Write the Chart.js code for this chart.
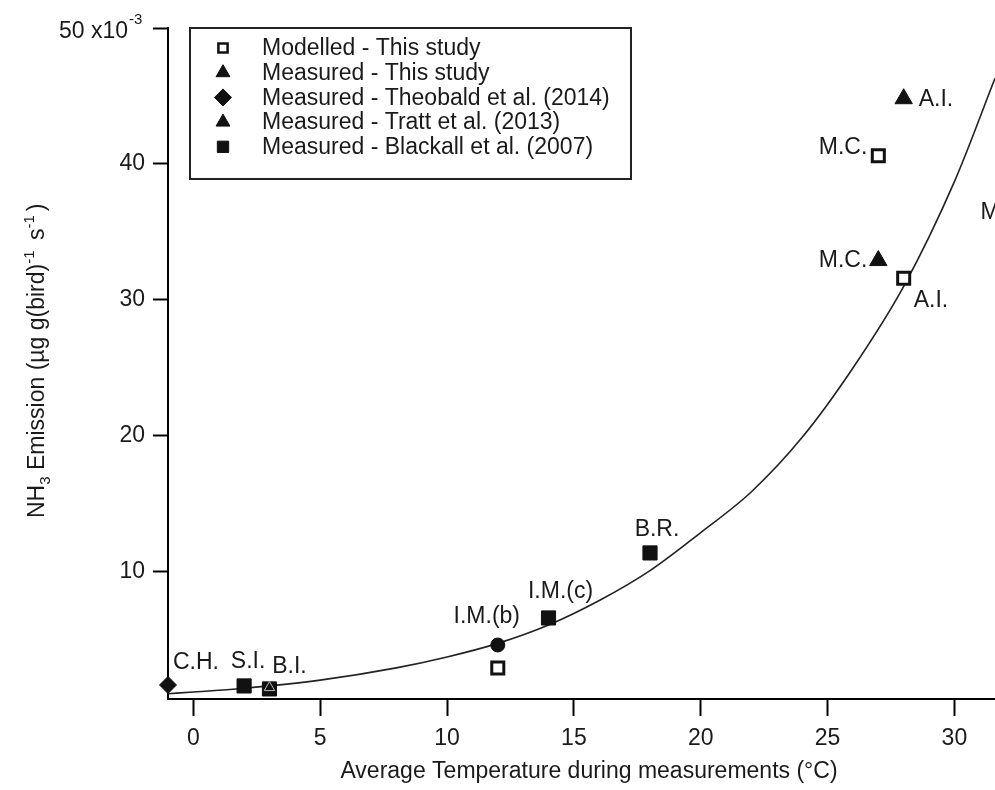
<!DOCTYPE html>
<html>
<head>
<meta charset="utf-8">
<script src="https://cdn.jsdelivr.net/npm/chart.js@4.4.1/dist/chart.umd.min.js"></script>
<style>
  html, body { margin: 0; padding: 0; background: #fff; }
  #wrap { width: 995px; height: 790px; position: relative; }
</style>
</head>
<body>
<div id="wrap"><canvas id="nh3Chart" width="995" height="790"></canvas></div>
<script>
// temperature (°C) vs NH3 emission (x10^-3 µg g(bird)^-1 s^-1)
const modelledT = [12, 27, 28];
const modelledE = [2.94, 40.6, 31.6];
const modelledNames = ["", "M.C.", "A.I."];

const measuredT = [27, 28];
const measuredE = [32.9, 44.8];
const measuredNames = ["M.C.", "A.I."];

const theobaldT = [-1];
const theobaldE = [1.69];
const theobaldNames = ["C.H."];

const trattT = [3];
const trattE = [1.5];

const blackallT = [2, 3, 14, 18];
const blackallE = [1.62, 1.4, 6.62, 11.4];
const blackallNames = ["S.I.", "B.I.", "I.M.(c)", "B.R."];

const imbT = [12];
const imbE = [4.63];
const imbNames = ["I.M.(b)"];

// fitted curve, read at a handful of temperatures
const fitT = [-1, 0, 2, 5, 8, 10, 12, 14, 16, 18, 20, 22, 24, 26, 28, 30, 31.6];
const fitE = [1.05, 1.17, 1.45, 2.05, 2.95, 3.75, 4.75, 6.1, 7.9, 10.1, 12.9, 15.9, 19.9, 25.0, 31.0, 38.7, 46.3];

const xTicks = [0, 5, 10, 15, 20, 25, 30];
const yTicks = [10, 20, 30, 40, 50];

// label placement next to each point (pixels), kept apart from the data
const modelledTagPos = [null, [-11, -8, "right"], [10, 22, "left"]];
const measuredTagPos = [[-11, 0, "right"], [15, 1, "left"]];
const theobaldTagPos = [[5, -22, "left"]];
const blackallTagPos = [[4, -24, "center"], [20, -22, "center"], [12, -26, "center"], [7, -23, "center"]];
const imbTagPos = [[-11, -28, "center"]];

const FONT = '"Liberation Sans", Arial, Helvetica, sans-serif';
const INK = "#111";

function pts(xs, ys) {
  return xs.map((x, i) => ({ x: x, y: ys[i] }));
}

const datasets = [
  {
    label: "Modelled - This study",
    data: pts(modelledT, modelledE),
    pointStyle: "rect", pointRadius: 8.5,
    backgroundColor: "#fff", borderColor: INK, borderWidth: 3,
    tags: modelledNames, tagPos: modelledTagPos,
    legendMark: { style: "rect", r: 6.5, fill: "#fff", bw: 2.5 }
  },
  {
    label: "Measured - This study",
    data: pts(measuredT, measuredE),
    pointStyle: "triangle", pointRadius: 10,
    backgroundColor: INK, borderColor: INK, borderWidth: 1,
    tags: measuredNames, tagPos: measuredTagPos,
    legendMark: { style: "triangle", r: 8, fill: INK, bw: 1 }
  },
  {
    label: "Measured - Theobald et al. (2014)",
    data: pts(theobaldT, theobaldE),
    pointStyle: "rectRot", pointRadius: 8.5,
    backgroundColor: INK, borderColor: INK, borderWidth: 1,
    tags: theobaldNames, tagPos: theobaldTagPos,
    legendMark: { style: "rectRot", r: 8.5, fill: INK, bw: 1 }
  },
  {
    label: "Measured - Tratt et al. (2013)",
    data: pts(trattT, trattE),
    pointStyle: "triangle", pointRadius: 6,
    backgroundColor: INK, borderColor: "#bbb", borderWidth: 1,
    legendMark: { style: "triangle", r: 8, fill: INK, bw: 1 }
  },
  {
    label: "Measured - Blackall et al. (2007)",
    data: pts(blackallT, blackallE),
    pointStyle: "rect", pointRadius: 10,
    backgroundColor: INK, borderColor: INK, borderWidth: 1,
    tags: blackallNames, tagPos: blackallTagPos,
    legendMark: { style: "rect", r: 8, fill: INK, bw: 1 }
  },
  {
    label: "I.M.(b)",
    data: pts(imbT, imbE),
    pointStyle: "circle", pointRadius: 7,
    backgroundColor: INK, borderColor: INK, borderWidth: 1,
    tags: imbNames, tagPos: imbTagPos
  },
  {
    label: "fit",
    data: pts(fitT, fitE),
    showLine: true, pointRadius: 0,
    borderColor: "#222", borderWidth: 1.6,
    cubicInterpolationMode: "monotone", fill: false
  }
];

function drawRich(ctx, parts, big, small) {
  let cx = 0;
  parts.forEach(p => {
    ctx.font = (p[1] ? small : big) + "px " + FONT;
    const dy = p[1] === "sub" ? 6 : p[1] === "sup" ? -10 : 0;
    ctx.fillText(p[0], cx, dy);
    cx += ctx.measureText(p[0]).width + (p[1] === "sup" ? 4 : 0);
  });
}

const decor = {
  id: "decor",
  afterDatasetsDraw(chart) {
    const ctx = chart.ctx;
    const xs = chart.scales.x, ys = chart.scales.y;
    ctx.save();
    ctx.fillStyle = "#1a1a1a";
    ctx.font = "23px " + FONT;
    ctx.textBaseline = "middle";
    chart.data.datasets.forEach((ds, di) => {
      if (!ds.tags) return;
      const meta = chart.getDatasetMeta(di);
      ds.tags.forEach((name, i) => {
        const pos = ds.tagPos[i];
        if (!name || !pos) return;
        const el = meta.data[i];
        ctx.textAlign = pos[2];
        ctx.fillText(name, el.x + pos[0], el.y + pos[1]);
      });
    });
    // tag of a point lying past the right edge of the axis
    ctx.textAlign = "left";
    ctx.fillText("M.C.", xs.getPixelForValue(31.03), ys.getPixelForValue(36.4));
    ctx.restore();
  },
  afterDraw(chart) {
    const ctx = chart.ctx;
    const ys = chart.scales.y;
    ctx.save();
    ctx.fillStyle = "#1a1a1a";

    // top tick label "50 x10^-3"
    const y50 = ys.getPixelForValue(50);
    ctx.textBaseline = "middle";
    ctx.textAlign = "right";
    ctx.font = "23px " + FONT;
    ctx.fillText("50 x10", 128, y50 + 4);
    ctx.textAlign = "left";
    ctx.font = "15px " + FONT;
    ctx.fillText("-3", 129, y50 - 8);

    // x axis title
    ctx.textAlign = "center";
    ctx.textBaseline = "alphabetic";
    ctx.font = "23px " + FONT;
    ctx.fillText("Average Temperature during measurements (°C)", 589, 778);

    // y axis title, rotated
    ctx.save();
    ctx.translate(44, 518);
    ctx.rotate(-Math.PI / 2);
    ctx.textAlign = "left";
    drawRich(ctx, [["NH"], ["3", "sub"], [" Emission (µg g(bird)"], ["-1", "sup"], [" s"], ["-1", "sup"], [")"]], 23, 15);
    ctx.restore();

    // legend box
    ctx.strokeStyle = "#222";
    ctx.lineWidth = 2;
    ctx.strokeRect(190, 28, 441, 151);
    const rows = chart.data.datasets.filter(d => d.legendMark);
    ctx.font = "23px " + FONT;
    ctx.textBaseline = "middle";
    ctx.textAlign = "left";
    rows.forEach((ds, i) => {
      const y = 48 + i * 24.7;
      const m = ds.legendMark;
      ctx.fillStyle = m.fill;
      ctx.strokeStyle = INK;
      ctx.lineWidth = m.bw;
      Chart.helpers.drawPoint(ctx, { pointStyle: m.style, radius: m.r, rotation: 0, borderWidth: m.bw }, 223, y);
      ctx.fillStyle = "#1a1a1a";
      ctx.fillText(ds.label, 262, y + 1);
    });
    ctx.restore();
  }
};

new Chart(document.getElementById("nh3Chart"), {
  type: "scatter",
  data: { datasets: datasets },
  options: {
    responsive: false,
    animation: false,
    clip: false,
    layout: { autoPadding: false, padding: { top: 28, right: 0, bottom: 0, left: 0 } },
    plugins: { legend: { display: false }, tooltip: { enabled: false } },
    scales: {
      x: {
        type: "linear",
        min: -1,
        max: 31.6,
        afterBuildTicks: (s) => { s.ticks = xTicks.map(v => ({ value: v })); },
        afterFit: (s) => { s.height = 91; s.paddingLeft = 0; s.paddingRight = 0; },
        border: { display: true, color: "#000", width: 2 },
        grid: { drawOnChartArea: false, drawTicks: true, tickLength: 17, tickWidth: 2, tickColor: "#000", color: "#000" },
        ticks: { color: "#1a1a1a", font: { family: FONT, size: 23 }, padding: 9, maxRotation: 0 }
      },
      y: {
        type: "linear",
        min: 0.66,
        max: 50,
        afterBuildTicks: (s) => { s.ticks = yTicks.map(v => ({ value: v })); },
        afterFit: (s) => { s.width = 168; s.paddingTop = 0; s.paddingBottom = 0; },
        border: { display: true, color: "#000", width: 2 },
        grid: { drawOnChartArea: false, drawTicks: true, tickLength: 15, tickWidth: 2, tickColor: "#000", color: "#000" },
        ticks: {
          color: "#1a1a1a", font: { family: FONT, size: 23 }, padding: 8,
          callback: (v) => (v === 50 ? "" : String(v))
        }
      }
    }
  },
  plugins: [decor]
});
</script>
</body>
</html>
